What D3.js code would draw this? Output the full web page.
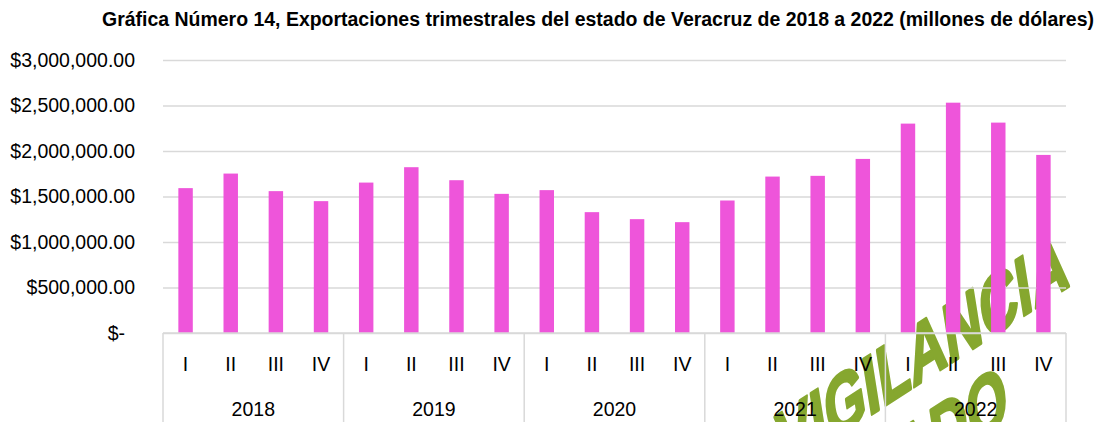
<!DOCTYPE html>
<html>
<head>
<meta charset="utf-8">
<script src="https://cdn.jsdelivr.net/npm/d3@7"></script>
<style>
  html, body { margin: 0; padding: 0; background: #fff; }
  svg { display: block; }
</style>
</head>
<body>
<div id="chart"></div>
<script>
const years = ["2018", "2019", "2020", "2021", "2022"];
const quarters = ["I", "II", "III", "IV"];
// exportaciones trimestrales, one list per year (I..IV)
const exports2018 = [1592000, 1752000, 1559000, 1449000];
const exports2019 = [1653000, 1822000, 1679000, 1529000];
const exports2020 = [1570000, 1328000, 1251000, 1218000];
const exports2021 = [1456000, 1719000, 1727000, 1913000];
const exports2022 = [2301000, 2531000, 2312000, 1957000];
const yTicks = [0, 500000, 1000000, 1500000, 2000000, 2500000, 3000000];
const title = "Gráfica Número 14, Exportaciones trimestrales del estado de Veracruz de 2018 a 2022 (millones de dólares)";

const WIDTH = 1101, HEIGHT = 422;
const PLOT_LEFT = 163, PLOT_RIGHT = 1066, PLOT_TOP = 60, PLOT_BOTTOM = 333;
const BAR_COLOR = "#ee55da";
const GRID_COLOR = "#d9d9d9";
const MARK_COLOR = "#86a72f";
const FONT = "'Liberation Sans', Arial, sans-serif";

const rows = [exports2018, exports2019, exports2020, exports2021, exports2022]
    .flatMap((vals, i) => vals.map((v, j) => ({year: years[i], quarter: quarters[j], value: v})));

const svg = d3.select("#chart").append("svg")
    .attr("width", WIDTH)
    .attr("height", HEIGHT);

// ==================== watermark (behind everything) =====================
const mark = svg.append("g")
    .attr("fill", MARK_COLOR)
    .attr("stroke", MARK_COLOR)
    .attr("stroke-width", 2.5)
    .attr("stroke-linejoin", "round")
    .style("font-family", FONT).style("font-weight", "bold");
mark.append("text")
    .attr("transform", "translate(922,350) rotate(-33) skewX(-24) scale(0.9,1.12)")
    .attr("text-anchor", "middle")
    .attr("dy", "0.36em")
    .style("font-size", "66px")
    .text("VIGILANCIA");
mark.append("text")
    .attr("transform", "translate(966,416) rotate(-33) skewX(-24) scale(0.9,1.12)")
    .attr("text-anchor", "end")
    .attr("dx", "0.8em")
    .attr("dy", "0.36em")
    .style("font-size", "66px")
    .text("CONTROLADO");

// ==================== scales =====================
const x0 = d3.scaleBand().domain(years).range([PLOT_LEFT, PLOT_RIGHT]).padding(0);
const x1 = d3.scaleBand().domain(quarters).range([0, x0.bandwidth()])
    .paddingInner(0.68).paddingOuter(0.34);
const y = d3.scaleLinear().domain([0, 3000000]).range([PLOT_BOTTOM, PLOT_TOP]);

// ==================== gridlines + y labels =====================
const fmt = d3.format("$,.2f");
const yAxis = d3.axisLeft(y)
    .tickValues(yTicks)
    .tickSize(-(PLOT_RIGHT - PLOT_LEFT))
    .tickPadding(28)
    .tickFormat(d => d === 0 ? "$-" : fmt(d));

const yg = svg.append("g")
    .attr("transform", `translate(${PLOT_LEFT},0)`)
    .call(yAxis);
yg.select(".domain").remove();
yg.selectAll(".tick line").attr("stroke", GRID_COLOR).attr("stroke-width", 1.5);
yg.selectAll(".tick text")
    .attr("fill", "#000")
    .style("font-family", FONT)
    .style("font-size", "19.5px")
    .attr("x", d => d === 0 ? -38 : -28);

// ==================== bars =====================
svg.append("g")
    .selectAll("rect")
    .data(rows)
    .enter()
    .append("rect")
    .attr("x", d => x0(d.year) + x1(d.quarter))
    .attr("y", d => y(d.value))
    .attr("width", x1.bandwidth())
    .attr("height", d => y(0) - y(d.value))
    .attr("fill", BAR_COLOR);

// ==================== category axis (two levels) =====================
const xg = svg.append("g");
xg.append("line")
    .attr("x1", PLOT_LEFT).attr("x2", PLOT_RIGHT)
    .attr("y1", PLOT_BOTTOM).attr("y2", PLOT_BOTTOM)
    .attr("stroke", GRID_COLOR).attr("stroke-width", 1.5);

xg.selectAll(".sep")
    .data(years.map(x0).concat([PLOT_RIGHT]))
    .enter()
    .append("line")
    .attr("class", "sep")
    .attr("x1", d => d).attr("x2", d => d)
    .attr("y1", PLOT_BOTTOM).attr("y2", HEIGHT)
    .attr("stroke", GRID_COLOR).attr("stroke-width", 1.5);

xg.selectAll(".q-label")
    .data(rows)
    .enter()
    .append("text")
    .attr("class", "q-label")
    .attr("x", d => x0(d.year) + x1(d.quarter) + x1.bandwidth() / 2)
    .attr("y", 371)
    .attr("text-anchor", "middle")
    .style("font-family", FONT)
    .style("font-size", "19.5px")
    .text(d => d.quarter);

xg.selectAll(".y-label")
    .data(years)
    .enter()
    .append("text")
    .attr("class", "y-label")
    .attr("x", d => x0(d) + x0.bandwidth() / 2)
    .attr("y", 416)
    .attr("text-anchor", "middle")
    .style("font-family", FONT)
    .style("font-size", "19.5px")
    .text(d => d);

// ==================== title =====================
svg.append("text")
    .attr("x", 598)
    .attr("y", 26)
    .attr("text-anchor", "middle")
    .attr("textLength", 992)
    .attr("lengthAdjust", "spacingAndGlyphs")
    .style("font-family", "'Liberation Sans Narrow', 'Arial Narrow', 'Liberation Sans', Arial, sans-serif")
    .style("font-weight", "bold")
    .style("font-size", "20px")
    .text(title);
</script>
</body>
</html>
